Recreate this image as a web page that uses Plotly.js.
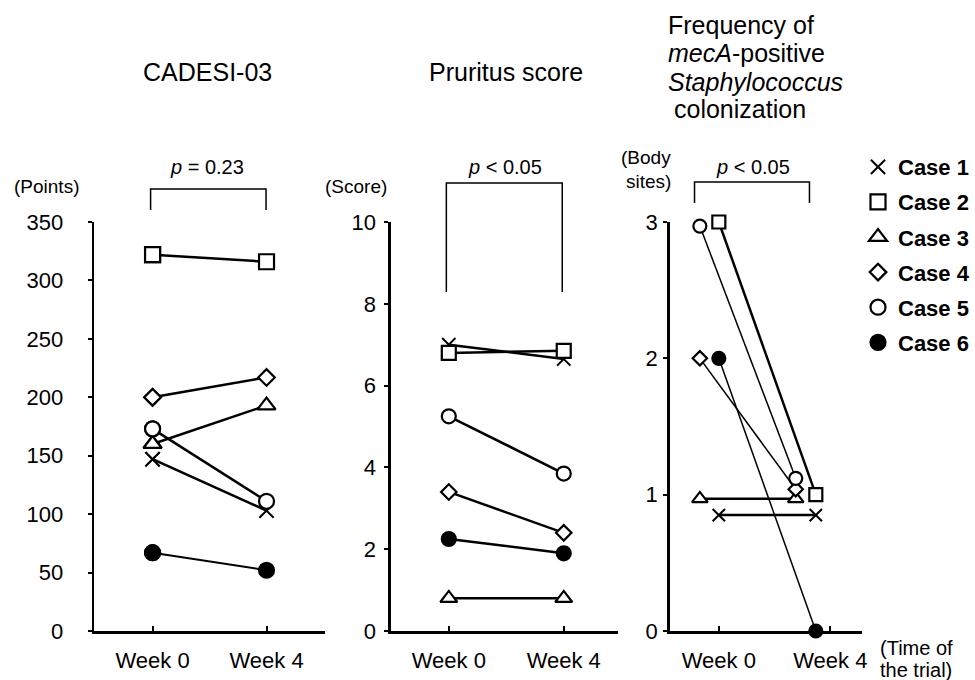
<!DOCTYPE html>
<html><head><meta charset="utf-8">
<script src="https://cdn.plot.ly/plotly-3.0.1.min.js"></script>
<style>html,body{margin:0;padding:0;background:#fff}</style>
</head><body><div id="chart" style="width:975px;height:680px"></div>
<script>
// ---------- data ----------
const categories = ['Week 0', 'Week 4'];
const caseNames = ['Case 1', 'Case 2', 'Case 3', 'Case 4', 'Case 5', 'Case 6'];
const cadesiWeek0 = [147, 322, 160, 200, 173, 67];
const cadesiWeek4 = [103, 316, 193, 217, 111, 52];
const pruritusWeek0 = [7.0, 6.8, 0.8, 3.4, 5.25, 2.25];
const pruritusWeek4 = [6.65, 6.85, 0.8, 2.4, 3.85, 1.9];
const mecaWeek0 = [0.85, 3, 0.97, 2, 2.97, 2];
const mecaWeek4 = [0.85, 1, 0.97, 1.04, 1.12, 0];
const cadesiTicks = [0, 50, 100, 150, 200, 250, 300, 350];
const pruritusTicks = [0, 2, 4, 6, 8, 10];
const mecaTicks = [0, 1, 2, 3];
const pValues = ['<i>p</i> = 0.23', '<i>p</i> < 0.05', '<i>p</i> < 0.05'];

// ---------- styles ----------
const FONT = 'Liberation Sans, Arial, Helvetica, sans-serif';
const symbols = ['x-thin-open', 'square', 'triangle-up', 'diamond', 'circle', 'circle'];
const fills = ['#000', '#fff', '#fff', '#fff', '#fff', '#000'];
const sizeScale = [0.95, 1, 1.05, 0.85, 1, 1];
const panelMarker = [15, 14, 13];
const lineW = [[2.5, 2.5, 2.5, 2.5, 2.5, 2], [2.5, 2.5, 2.5, 2.5, 2.5, 2.5], [2.5, 2.5, 2.5, 1.5, 1.5, 1.5]];
// horizontal nudges used in the third panel to keep markers apart
const shift3W0 = [0, 0, -0.17, -0.17, -0.17, 0];
const shift3W4 = [-0.13, -0.13, -0.31, -0.31, -0.31, -0.13];

const W = 975, H = 680;
const px = v => v / W;
const py = v => 1 - v / H;

const panels = [
  {w0: cadesiWeek0, w4: cadesiWeek4, xa: 'x', ya: 'y', s0: null, s4: null},
  {w0: pruritusWeek0, w4: pruritusWeek4, xa: 'x2', ya: 'y2', s0: null, s4: null},
  {w0: mecaWeek0, w4: mecaWeek4, xa: 'x3', ya: 'y3', s0: shift3W0, s4: shift3W4}
];

const traces = [];
panels.forEach((p, pi) => {
  caseNames.forEach((nm, i) => {
    const x0 = categories.indexOf('Week 0') + (p.s0 ? p.s0[i] : 0);
    const x4 = categories.indexOf('Week 4') + (p.s4 ? p.s4[i] : 0);
    traces.push({
      type: 'scatter', mode: 'lines+markers', name: nm, showlegend: false,
      x: [x0, x4], y: [p.w0[i], p.w4[i]], xaxis: p.xa, yaxis: p.ya, cliponaxis: false,
      line: {color: '#000', width: lineW[pi][i]},
      marker: {symbol: symbols[i], size: panelMarker[pi] * sizeScale[i], color: fills[i],
               line: {color: '#000', width: i === 0 ? 2 : 2.2}},
      hoverinfo: 'skip'
    });
  });
});
// legend entries (markers only), drawn on the first panel's week-0 points
caseNames.forEach((nm, i) => {
  traces.push({
    type: 'scatter', mode: 'markers', name: nm, legendgroup: 'g' + i, showlegend: true,
    x: [0], y: [cadesiWeek0[i]], xaxis: 'x', yaxis: 'y', cliponaxis: false,
    marker: {symbol: symbols[i], size: panelMarker[0] * sizeScale[i], color: fills[i],
             line: {color: '#000', width: i === 0 ? 2 : 2.2}},
    hoverinfo: 'skip'
  });
});

const yDom = [py(631), py(222)];
function xAxis(dom, range, standoff) {
  return {domain: dom, range: range, tickvals: [0, 1], ticktext: categories,
    showline: true, linewidth: 2.5, linecolor: '#000', ticks: 'inside', ticklen: 5, tickwidth: 2,
    tickcolor: '#000', showgrid: false, zeroline: false, fixedrange: true,
    tickfont: {family: FONT, size: 22, color: '#000'}, ticklabelstandoff: standoff};
}
function yAxis(dom, range, tv, anchor, standoff) {
  return {domain: dom, range: range, tickvals: tv, anchor: anchor,
    showline: true, linewidth: 2.5, linecolor: '#000', ticks: 'outside', ticklen: 4, tickwidth: 2,
    tickcolor: '#000', showgrid: false, zeroline: false, fixedrange: true,
    tickfont: {family: FONT, size: 22, color: '#000'}, ticklabelstandoff: standoff};
}

const ann = [];
function txt(x, y, t, size, opts) {
  ann.push(Object.assign({xref: 'paper', yref: 'paper', x: px(x), y: py(y), text: t, showarrow: false,
    xanchor: 'center', yanchor: 'middle', font: {family: FONT, size: size, color: '#000'}}, opts || {}));
}
txt(209, 72, 'CADESI-03', 25);
txt(511, 72, 'Pruritus score', 25);
txt(672, 25, 'Frequency of', 25, {xanchor: 'left'});
txt(672, 53, '<i>mecA</i>-positive', 25, {xanchor: 'left'});
txt(672, 82, '<i>Staphylococcus</i>', 25, {xanchor: 'left'});
txt(678, 109, 'colonization', 25, {xanchor: 'left'});
txt(47, 186, '(Points)', 19);
txt(359, 186, '(Score)', 19);
txt(679, 157, '(Body', 19, {xanchor: 'right'});
txt(679, 182, 'sites)', 19, {xanchor: 'right'});
txt(209, 167, pValues[0], 20);
txt(510, 167, pValues[1], 20);
txt(760, 167, pValues[2], 20);
txt(925, 648, '(Time of', 20);
txt(925, 670, 'the trial)', 20);

function bracket(xl, xr, top, bottom) {
  return {type: 'path', xref: 'paper', yref: 'paper',
    path: `M ${px(xl)} ${py(bottom)} L ${px(xl)} ${py(top)} L ${px(xr)} ${py(top)} L ${px(xr)} ${py(bottom)}`,
    line: {color: '#000', width: 1.5}};
}

const layout = {
  width: W, height: H, margin: {l: 0, r: 0, t: 0, b: 0},
  paper_bgcolor: '#fff', plot_bgcolor: 'rgba(0,0,0,0)', showlegend: true,
  font: {family: FONT, color: '#000'},
  xaxis: xAxis([px(95), px(328)], [-0.513, 1.513], 8),
  yaxis: yAxis(yDom, [0, 350], cadesiTicks, 'x', 20),
  xaxis2: xAxis([px(394.5), px(624)], [-0.504, 1.474], 8),
  yaxis2: yAxis(yDom, [0, 10], pruritusTicks, 'x2', 4),
  xaxis3: xAxis([px(676), px(870)], [-0.44, 1.284], 8),
  yaxis3: yAxis(yDom, [0, 3], mecaTicks, 'x3', 1),
  legend: {x: px(866), xanchor: 'left', y: py(146), yanchor: 'top', bgcolor: 'rgba(0,0,0,0)',
    font: {family: FONT, size: 22, color: '#000', weight: 'bold'}, tracegroupgap: 3.5, traceorder: 'grouped'},
  annotations: ann,
  shapes: [bracket(152, 268.5, 189, 210), bracket(450.5, 567.5, 183, 292), bracket(701, 817, 182, 203)]
};
layout.xaxis.anchor = 'y'; layout.xaxis2.anchor = 'y2'; layout.xaxis3.anchor = 'y3';

Plotly.newPlot('chart', traces, layout, {staticPlot: true, displayModeBar: false});
</script></body></html>
